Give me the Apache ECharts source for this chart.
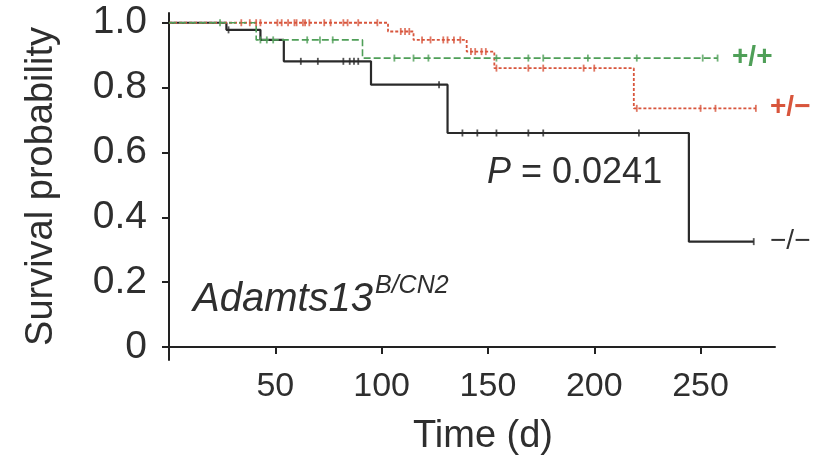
<!DOCTYPE html>
<html>
<head>
<meta charset="utf-8">
<script src="https://cdn.jsdelivr.net/npm/echarts@6/dist/echarts.min.js"></script>
<style>
html,body{margin:0;padding:0;background:#fff;}
#chart{width:817px;height:464px;}
</style>
</head>
<body>
<div id="chart"></div>
<script>
// Kaplan-Meier step curves: time (days) where survival changes, survival after that time
var blackTimes = [0, 27, 43, 54, 95, 131, 244.5, 275];
var blackSurv  = [1, 0.978, 0.947, 0.881, 0.809, 0.66, 0.325, 0.325];
var greenTimes = [0, 41, 91, 258];
var greenSurv  = [1, 0.947, 0.891, 0.891];
var redTimes   = [0, 103, 115, 140, 153, 218.6, 276];
var redSurv    = [1, 0.973, 0.947, 0.911, 0.86, 0.736, 0.736];
// censoring marks (days)
var blackCens = [28, 62, 70, 82, 85, 87, 89, 127, 138, 145, 154, 169, 176, 221, 275];
var greenCens = [24, 43, 46, 49, 65, 71, 77, 106, 115, 122, 154, 169, 176, 197, 220, 251, 258];
var redCens   = [34, 38, 41, 43, 51, 53, 56, 59, 60, 63, 64, 66, 73, 76, 82, 84, 89, 98,
                 109, 111, 113, 119, 123, 129, 131, 134, 137, 142, 144, 147, 149,
                 154, 169, 176, 195, 200, 220, 250, 257, 276];
var xTicks = [50, 100, 150, 200, 250];
var yTicks = [0, 0.2, 0.4, 0.6, 0.8, 1.0];
var groupLabels = ['+/+', '+/\u2212', '\u2212/\u2212'];

var C_BLACK = '#2a2a2a', C_GREEN = '#4f9f58', C_RED = '#d8553c';
var FONT = '"Liberation Sans", Arial, Helvetica, sans-serif';

function pairs(t, s) { return t.map(function (v, i) { return [v, s[i]]; }); }
function survAt(t, times, surv) {
  var v = surv[0];
  for (var i = 0; i < times.length; i++) { if (times[i] <= t) v = surv[i]; }
  return v;
}
function cens(c, times, surv) { return c.map(function (t) { return [t, survAt(t, times, surv)]; }); }

var chart = echarts.init(document.getElementById('chart'), null, {renderer: 'canvas'});
var option = {
  animation: false,
  backgroundColor: '#ffffff',
  grid: {left: 169, right: 42, top: 13, bottom: 104, containLabel: false},
  xAxis: {
    type: 'value', min: 0, max: 285,
    name: 'Time (d)', nameLocation: 'middle', nameGap: 58,
    nameTextStyle: {fontFamily: FONT, fontSize: 38, color: '#2e2e2e', padding: [0, 0, 0, 22]},
    axisLine: {show: true, lineStyle: {color: '#222', width: 2}},
    axisTick: {show: true, customValues: xTicks, length: 7, lineStyle: {color: '#222', width: 2}},
    axisLabel: {customValues: xTicks, fontFamily: FONT, fontSize: 34, color: '#2e2e2e', margin: 10},
    splitLine: {show: false}
  },
  yAxis: {
    type: 'value', min: -0.04, max: 1.03,
    name: 'Survival probability', nameLocation: 'middle', nameGap: 108, nameRotate: 90,
    nameTextStyle: {fontFamily: FONT, fontSize: 38, color: '#2e2e2e'},
    axisLine: {show: true, lineStyle: {color: '#222', width: 2}},
    axisTick: {show: true, customValues: yTicks, length: 7, lineStyle: {color: '#222', width: 2}},
    axisLabel: {
      customValues: yTicks, fontFamily: FONT, fontSize: 39, color: '#2e2e2e', margin: 22,
      formatter: function (v) { return Math.abs(v) < 1e-9 ? '0' : v.toFixed(1); }
    },
    splitLine: {show: false}
  },
  series: [
    {type: 'line', name: '-/-', step: 'end', data: pairs(blackTimes, blackSurv), symbol: 'none',
     lineStyle: {color: C_BLACK, width: 2.2}, z: 2},
    {type: 'line', name: '+/-', step: 'end', data: pairs(redTimes, redSurv), symbol: 'none',
     lineStyle: {color: C_RED, width: 1.8, type: [3, 2]}, z: 3},
    {type: 'line', name: '+/+', step: 'end', data: pairs(greenTimes, greenSurv), symbol: 'none',
     lineStyle: {color: C_GREEN, width: 1.6, type: [7, 3]}, z: 4},
    {type: 'scatter', data: cens(blackCens, blackTimes, blackSurv), symbol: 'rect', symbolSize: [1.8, 7],
     itemStyle: {color: C_BLACK}, z: 5},
    {type: 'scatter', data: cens(redCens, redTimes, redSurv), symbol: 'rect', symbolSize: [1.8, 7],
     itemStyle: {color: C_RED}, z: 5},
    {type: 'scatter', data: cens(greenCens, greenTimes, greenSurv), symbol: 'rect', symbolSize: [1.8, 7],
     itemStyle: {color: C_GREEN}, z: 6}
  ],
  graphic: [
    {type: 'text', left: 732, top: 43, style: {text: groupLabels[0], fill: C_GREEN, font: 'bold 28px ' + FONT}},
    {type: 'text', left: 770, top: 93, style: {text: groupLabels[1], fill: C_RED, font: 'bold 28px ' + FONT}},
    {type: 'text', left: 770, top: 227, style: {text: groupLabels[2], fill: '#333', font: '28px ' + FONT}},
    {type: 'text', left: 487, top: 155, style: {
      text: '{i|P} = 0.0241', fill: '#2e2e2e', font: '36px ' + FONT,
      rich: {i: {fontStyle: 'italic', fontSize: 36, fontFamily: FONT, fill: '#2e2e2e'}}}},
    {type: 'text', left: 193, top: 280, style: {text: 'Adamts13', fill: '#2e2e2e', font: 'italic 40px ' + FONT}},
    {type: 'text', left: 375, top: 274, style: {text: 'B/CN2', fill: '#2e2e2e', font: 'italic 25px ' + FONT}}
  ]
};
chart.setOption(option);
</script>
</body>
</html>
